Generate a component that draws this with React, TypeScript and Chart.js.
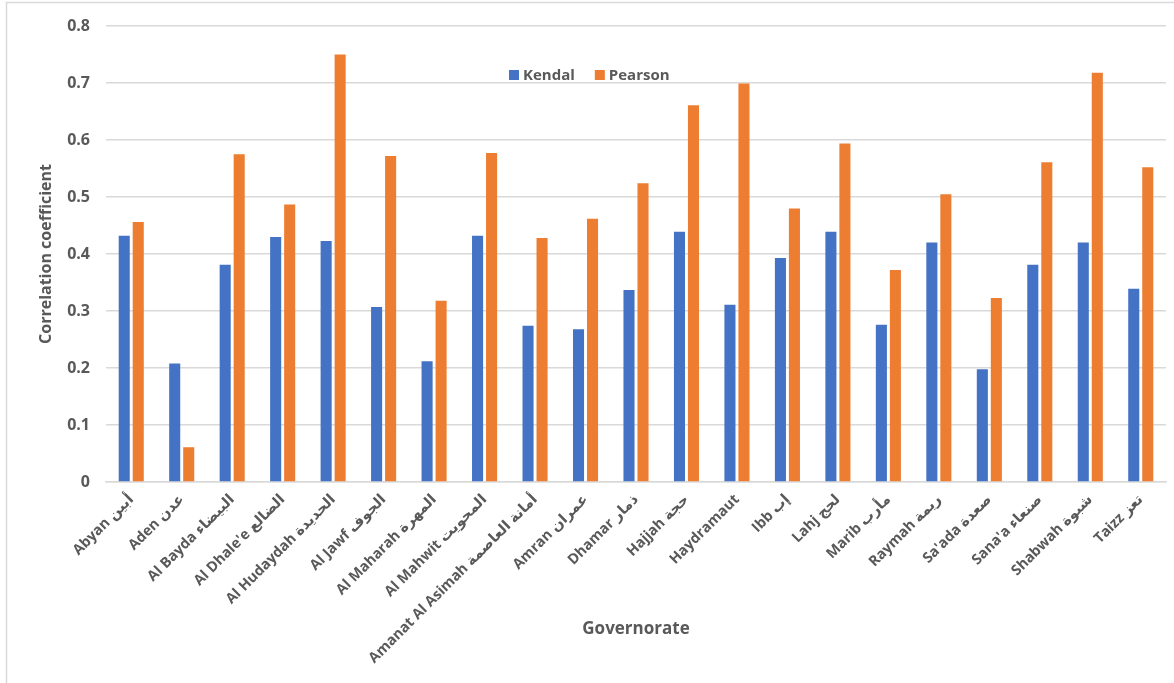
import React, { useEffect, useRef } from "react";
import { Chart, registerables } from "chart.js";

Chart.register(...registerables);

const categories: string[] = [
  "Abyan أبين",
  "Aden عدن",
  "Al Bayda البيضاء",
  "Al Dhale'e الضالع",
  "Al Hudaydah الحديدة",
  "Al Jawf الجوف",
  "Al Maharah المهرة",
  "Al Mahwit المحويت",
  "Amanat Al Asimah أمانة العاصمة",
  "Amran عمران",
  "Dhamar ذمار",
  "Hajjah حجة",
  "Haydramaut",
  "Ibb إب",
  "Lahj لحج",
  "Marib مأرب",
  "Raymah ريمة",
  "Sa'ada صعدة",
  "Sana'a صنعاء",
  "Shabwah شبوة",
  "Taizz تعز",
];

const kendal: number[] = [
  0.432, 0.208, 0.381, 0.43, 0.423, 0.307, 0.212, 0.432, 0.274, 0.268, 0.337,
  0.439, 0.311, 0.393, 0.439, 0.276, 0.42, 0.198, 0.381, 0.42, 0.339,
];

const pearson: number[] = [
  0.456, 0.061, 0.575, 0.487, 0.75, 0.572, 0.318, 0.577, 0.428, 0.462, 0.524,
  0.661, 0.699, 0.48, 0.594, 0.372, 0.505, 0.323, 0.561, 0.718, 0.552,
];

const yTicks: number[] = [0, 0.1, 0.2, 0.3, 0.4, 0.5, 0.6, 0.7, 0.8];

const seriesNames = ["Kendal", "Pearson"];
const seriesColors = ["#4472C4", "#ED7D31"];

const FONT = '"Open Sans", "DejaVu Sans", sans-serif';
const TEXT = "#595959";
const GRID = "#d9d9d9";

const framePlugin = {
  id: "frame",
  beforeDraw(chart: any) {
    const ctx = chart.ctx;
    ctx.save();
    ctx.fillStyle = "#ffffff";
    ctx.fillRect(0, 0, chart.width, chart.height);
    ctx.strokeStyle = GRID;
    ctx.lineWidth = 1.5;
    ctx.beginPath();
    ctx.moveTo(6.5, chart.height);
    ctx.lineTo(6.5, 2.5);
    ctx.lineTo(chart.width, 2.5);
    ctx.stroke();
    ctx.restore();
  },
};

const legendPlugin = {
  id: "innerLegend",
  afterDraw(chart: any) {
    const ctx = chart.ctx;
    ctx.save();
    ctx.font = `bold 15px ${FONT}`;
    ctx.textBaseline = "middle";
    let x = 509;
    const y = 75;
    chart.data.datasets.forEach((ds: any) => {
      ctx.fillStyle = ds.backgroundColor;
      ctx.fillRect(x, y - 5, 10, 10);
      x += 14;
      ctx.fillStyle = TEXT;
      ctx.fillText(ds.label, x, y + 1);
      x += ctx.measureText(ds.label).width + 20;
    });
    ctx.restore();
  },
};

export default function App() {
  const ref = useRef<HTMLCanvasElement | null>(null);

  useEffect(() => {
    document.body.style.margin = "0";
    const canvas = ref.current;
    if (!canvas) return;
    const chart = new Chart(canvas, {
      type: "bar",
      data: {
        labels: categories,
        datasets: [
          {
            label: seriesNames[0],
            data: kendal,
            backgroundColor: seriesColors[0],
            categoryPercentage: 0.555,
            barPercentage: 0.79,
          },
          {
            label: seriesNames[1],
            data: pearson,
            backgroundColor: seriesColors[1],
            categoryPercentage: 0.555,
            barPercentage: 0.79,
          },
        ],
      },
      options: {
        responsive: false,
        animation: false,
        devicePixelRatio: 1,
        layout: { padding: { left: 0, top: 26, right: 8, bottom: 0 } },
        plugins: {
          legend: { display: false },
          tooltip: { enabled: false },
        },
        scales: {
          x: {
            grid: { display: false, drawTicks: false },
            border: { display: true, color: GRID, width: 1.5 },
            ticks: {
              minRotation: 45,
              maxRotation: 45,
              autoSkip: false,
              padding: 9,
              color: TEXT,
              font: { family: FONT, size: 14.5, weight: "bold" },
            },
            title: {
              display: true,
              text: "Governorate",
              color: TEXT,
              font: { family: FONT, size: 17, weight: "bold" },
              padding: { top: 0, bottom: 44 },
            },
            afterFit(scale: any) {
              scale.height = 201;
            },
          },
          y: {
            min: 0,
            max: 0.8,
            afterBuildTicks(scale: any) {
              scale.ticks = yTicks.map((v) => ({ value: v }));
            },
            grid: { color: GRID, lineWidth: 1.5, drawTicks: false },
            border: { display: false },
            ticks: {
              padding: 16,
              color: TEXT,
              font: { family: FONT, size: 16, weight: "bold" },
              callback: (v: any) => (Number(v) === 0 ? "0" : Number(v).toFixed(1)),
            },
            title: {
              display: true,
              text: "Correlation coefficient",
              color: TEXT,
              font: { family: FONT, size: 16, weight: "bold" },
              padding: { top: 37, bottom: 0 },
            },
            afterFit(scale: any) {
              scale.width = 106;
            },
          },
        },
      },
      plugins: [framePlugin, legendPlugin],
    });
    return () => chart.destroy();
  }, []);

  return (
    <div style={{ position: "absolute", left: 0, top: 0, width: 1174, height: 683 }}>
      <canvas ref={ref} width={1174} height={683} />
    </div>
  );
}
